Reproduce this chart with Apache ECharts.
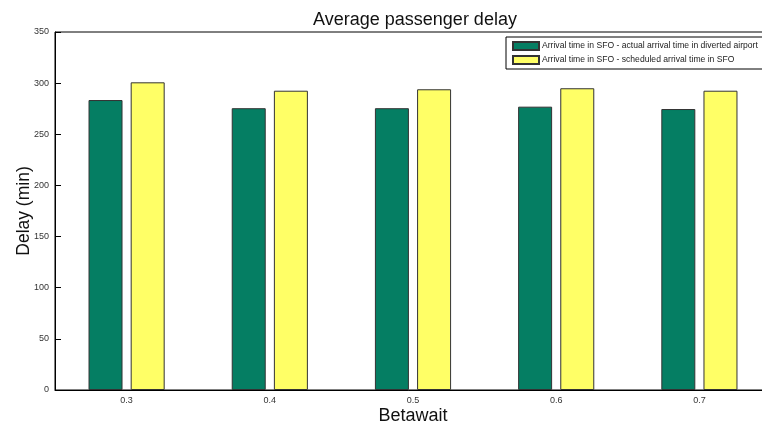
<!DOCTYPE html>
<html>
<head>
<meta charset="utf-8">
<script src="https://cdn.jsdelivr.net/npm/echarts@6/dist/echarts.min.js"></script>
<style>
  html, body { margin: 0; padding: 0; background: #fff; }
  #chart { width: 762px; height: 427px; }
</style>
</head>
<body>
<div id="chart"></div>
<script>
// betawait values on the x axis
var betawait = ['0.3', '0.4', '0.5', '0.6', '0.7'];
// arrival time in SFO - actual arrival time in diverted airport
var delayActual = [283.5, 275.5, 275.5, 277, 274.7];
// arrival time in SFO - scheduled arrival time in SFO
var delayScheduled = [300.8, 292.6, 294, 295, 292.6];

var nameActual = 'Arrival time in SFO - actual arrival time in diverted airport';
var nameScheduled = 'Arrival time in SFO - scheduled arrival time in SFO';

var chart = echarts.init(document.getElementById('chart'));
var option = {
    backgroundColor: '#fff',
    animation: false,
    title: {
        text: 'Average passenger delay',
        left: 410,
        textAlign: 'center',
        top: 6,
        textStyle: { fontFamily: 'Liberation Sans', fontSize: 18, fontWeight: 'normal', color: '#111' }
    },
    legend: {
        orient: 'vertical',
        left: 506,
        top: 37,
        itemWidth: 26,
        itemHeight: 8,
        itemGap: 4,
        padding: [4, 20, 4, 6],
        borderColor: '#000',
        borderWidth: 1,
        backgroundColor: '#fff',
        icon: 'rect',
        textStyle: { fontFamily: 'Liberation Sans', fontSize: 8.6, color: '#222', padding: [0, 0, 0, -2] },
        data: [nameActual, nameScheduled]
    },
    grid: {
        left: 55,
        top: 32,
        right: -9,
        bottom: 37,
        outerBoundsMode: 'none',
        containLabel: false,
        show: true,
        borderColor: '#000',
        borderWidth: 1
    },
    xAxis: {
        type: 'category',
        data: betawait,
        name: 'Betawait',
        nameLocation: 'middle',
        nameGap: 17,
        nameMoveOverlap: false,
        nameTextStyle: { fontFamily: 'Liberation Sans', fontSize: 18, color: '#111' },
        axisLine: { lineStyle: { color: '#000' } },
        axisTick: { inside: true, length: 5, alignWithLabel: true, lineStyle: { color: '#000' } },
        axisLabel: { fontFamily: 'Liberation Sans', fontSize: 9, color: '#333', margin: 6 },
        splitLine: { show: false }
    },
    yAxis: {
        type: 'value',
        min: 0,
        max: 350,
        interval: 50,
        name: 'Delay (min)',
        nameLocation: 'middle',
        nameGap: 22,
        nameMoveOverlap: false,
        nameTextStyle: { fontFamily: 'Liberation Sans', fontSize: 17.5, color: '#111' },
        axisLine: { show: true, lineStyle: { color: '#000' } },
        axisTick: { show: true, inside: true, length: 6, lineStyle: { color: '#000' } },
        axisLabel: { fontFamily: 'Liberation Sans', fontSize: 9, color: '#333', margin: 6 },
        splitLine: { show: false }
    },
    series: [
        {
            name: nameActual,
            type: 'bar',
            data: delayActual,
            barWidth: 34,
            barGap: '24%',
            itemStyle: { color: '#057e63', borderColor: '#333', borderWidth: 1 }
        },
        {
            name: nameScheduled,
            type: 'bar',
            data: delayScheduled,
            barWidth: 34,
            itemStyle: { color: '#ffff66', borderColor: '#333', borderWidth: 1 }
        }
    ]
};
chart.setOption(option);
</script>
</body>
</html>
